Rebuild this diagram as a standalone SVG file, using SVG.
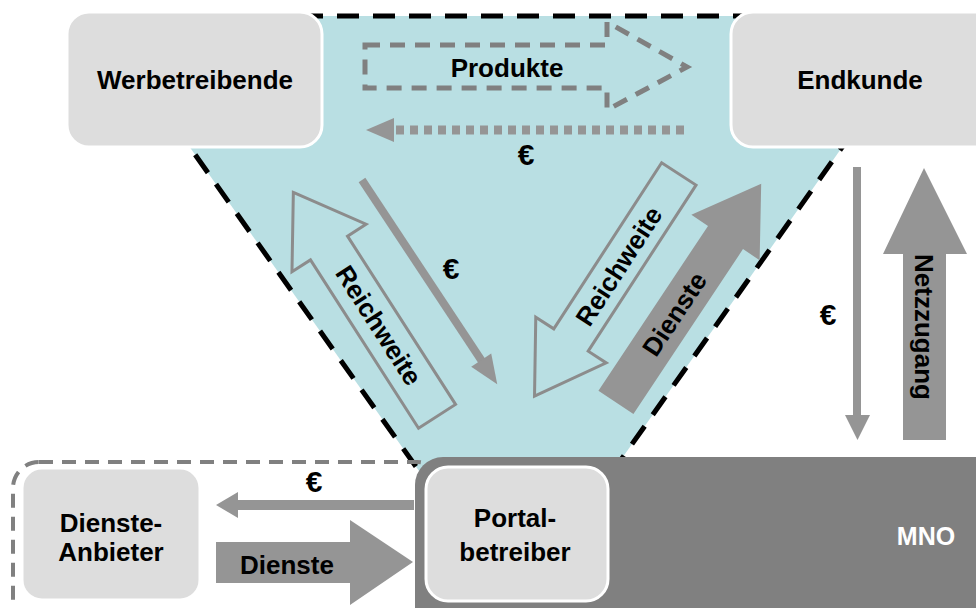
<svg xmlns="http://www.w3.org/2000/svg" width="976" height="608" viewBox="0 0 976 608">
  <style>
    .lbl { font-family: "Liberation Sans", Arial, sans-serif; font-weight: bold; font-size: 26px; fill: #000; text-anchor: middle; }
    .eur { font-size: 30px; }
    .box { fill: #dddddd; stroke: #ffffff; stroke-width: 3; }
    .solid { fill: #959595; }
    .hollow { fill: none; stroke: #8c8c8c; stroke-width: 3; stroke-linejoin: miter; }
    .edge { fill: none; stroke: #000; stroke-width: 5; stroke-dasharray: 22 14; }
  </style>

  <!-- value triangle -->
  <g id="triangle">
    <polygon points="97,16 935,16 516,608" fill="#b9dfe3"/>
    <polyline class="edge" points="935,16 97,16 516,608 935,16"/>
  </g>

  <!-- dashed frame around the service provider area -->
  <rect id="provider-frame" x="13" y="462" width="430" height="175" rx="26" fill="none" stroke="#808080" stroke-width="4" stroke-dasharray="14 9"/>

  <g id="werbetreibende">
    <rect class="box" x="67" y="12" width="255" height="135" rx="22"/>
    <text class="lbl" x="195" y="89">Werbetreibende</text>
  </g>

  <g id="endkunde">
    <rect class="box" x="731" y="12" width="270" height="135" rx="22"/>
    <text class="lbl" x="860" y="89">Endkunde</text>
  </g>

  <g id="mno">
    <rect x="415" y="457" width="600" height="200" rx="28" fill="#808080"/>
    <text class="lbl" x="926" y="545" style="fill:#fff;font-size:25px">MNO</text>
  </g>

  <g id="portalbetreiber">
    <rect class="box" x="426" y="467" width="182" height="134" rx="22"/>
    <text class="lbl" x="515" y="527">Portal-</text>
    <text class="lbl" x="515" y="561">betreiber</text>
  </g>

  <g id="dienste-anbieter">
    <rect class="box" x="22" y="468" width="178" height="132" rx="20"/>
    <text class="lbl" x="111" y="532">Dienste-</text>
    <text class="lbl" x="111" y="561">Anbieter</text>
  </g>

  <g id="connectors">
    <!-- Produkte: dashed outline arrow -->
    <path d="M365,45 L607,45 L607,22 L687,67 L607,110 L607,88 L365,88 Z" fill="none" stroke="#808080" stroke-width="5" stroke-dasharray="15 10"/>
    <text class="lbl" x="507" y="77">Produkte</text>

    <!-- € dotted arrow back to advertisers -->
    <line x1="684" y1="130" x2="393" y2="130" stroke="#959595" stroke-width="9" stroke-dasharray="8 6"/>
    <path class="solid" d="M366,130 L394,118 L394,142 Z"/>
    <text class="lbl eur" x="526" y="165">€</text>

    <!-- Reichweite (left, towards advertisers) -->
    <g transform="translate(329,248) rotate(57.3)">
      <path class="hollow" d="M-66,0 L0,-44 L0,-22 L200,-22 L200,22 L0,22 L0,44 Z"/>
      <text class="lbl" x="92" y="9">Reichweite</text>
    </g>

    <!-- € from advertisers to portal -->
    <g transform="translate(362,180) rotate(56.5)">
      <rect class="solid" x="0" y="-4" width="218" height="8"/>
      <path class="solid" d="M216,-12 L245,0 L216,12 Z"/>
    </g>
    <text class="lbl eur" x="451" y="279">€</text>

    <!-- Reichweite (right, towards portal) -->
    <g transform="translate(571,340) rotate(-57)">
      <path class="hollow" d="M-67,0 L0,-42 L0,-20.5 L198,-20.5 L198,20.5 L0,20.5 L0,42 Z"/>
      <text class="lbl" x="88" y="9">Reichweite</text>
    </g>

    <!-- Dienste to end customer -->
    <g transform="translate(725.5,237.5) rotate(-56.4)">
      <path class="solid" d="M-198,-21 L0,-21 L0,-41 L64.5,0 L0,41 L0,21 L-198,21 Z"/>
      <text class="lbl" x="-92" y="9">Dienste</text>
    </g>

    <!-- € from end customer to MNO -->
    <rect class="solid" x="853" y="167" width="8" height="250"/>
    <path class="solid" d="M845,415 L870,415 L857.5,440 Z"/>
    <text class="lbl eur" x="828" y="325">€</text>

    <!-- Netzzugang -->
    <path class="solid" d="M903,440 L903,254 L883,254 L924,168 L967,254 L946,254 L946,440 Z"/>
    <text class="lbl" transform="translate(915,327) rotate(90)">Netzzugang</text>

    <!-- € from portal to service provider -->
    <rect class="solid" x="236" y="500" width="178" height="10"/>
    <path class="solid" d="M216,505 L238,492 L238,518 Z"/>
    <text class="lbl eur" x="314" y="492">€</text>

    <!-- Dienste from service provider to portal -->
    <path class="solid" d="M216,542 L350,542 L350,520 L413,562 L350,605 L350,583 L216,583 Z"/>
    <text class="lbl" x="287" y="574">Dienste</text>
  </g>
</svg>
